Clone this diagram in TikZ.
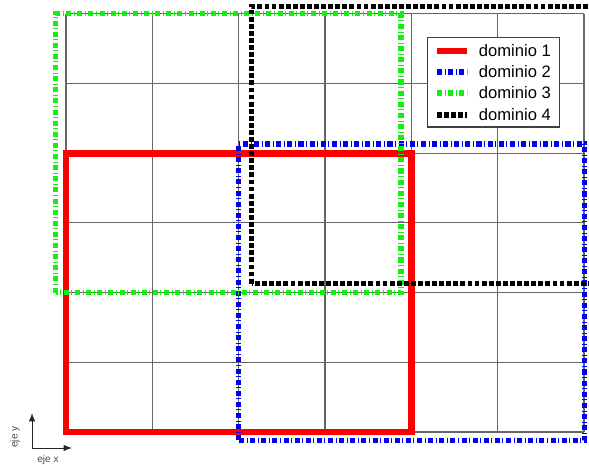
\documentclass[tikz,border=0pt]{standalone}
\usepackage{fontspec}
\setmainfont{Liberation Sans}
\usepackage{xcolor}
\usepackage{tikz}
\usetikzlibrary{arrows,positioning,calc}
\definecolor{domred}{HTML}{FF0000}
\definecolor{domblue}{HTML}{0000F0}
\definecolor{domgreen}{HTML}{11F011}
\definecolor{gridgray}{HTML}{666666}

\begin{document}
\begin{tikzpicture}[
    x=1.5cm, y=1.211cm,
    gridline/.style={draw=gridgray, line width=0.55pt, xstep=1.5cm, ystep=1.211cm},
    domone/.style={draw=domred, line width=3.3pt},
    domtwo/.style={draw=domblue, line width=2.6pt, dash pattern=on 2.5pt off 1.3pt on 0.5pt off 1.2pt},
    domthree/.style={draw=domgreen, line width=2.6pt, dash pattern=on 2.5pt off 1.3pt on 0.5pt off 1.2pt},
    domfour/.style={draw=black, line width=2.6pt, dash pattern=on 2.4pt off 1.1pt},
    legbox/.style={rectangle, draw=black!75, fill=white, line width=0.5pt, minimum width=2.294cm, minimum height=1.563cm, inner sep=0pt},
    legtext/.style={anchor=west, inner sep=0pt, font=\fontsize{8.2}{9}\selectfont},
    axislabel/.style={inner sep=0pt, text=black!70, font=\fontsize{5}{6}\selectfont},
    axisarrow/.style={draw=black!85, -latex, line width=0.45pt}
]
\useasboundingbox (-0.765,-0.473) rectangle (6.058,6.198);
\clip (-0.765,-0.473) rectangle (6.058,6.198);

% mesh
\draw [gridline] (0,0) grid (6,6);

% subdomains
\draw [domone] (0,0) rectangle (4,4);
\draw [domtwo] (2,-0.12) rectangle (6.01,4.13);
\draw [domthree] (-0.12,2) rectangle (3.88,6);
\draw [domfour] (2.15,2.13) rectangle (6.12,6.11);

% legend
\node [legbox] (legend) at (4.957,5.021) {};
\coordinate (k1a) at (4.298,5.466); \coordinate (k1b) at (4.645,5.466);
\coordinate (k2a) at (4.298,5.165); \coordinate (k2b) at (4.645,5.165);
\coordinate (k3a) at (4.298,4.864); \coordinate (k3b) at (4.645,4.864);
\coordinate (k4a) at (4.298,4.548); \coordinate (k4b) at (4.645,4.548);
\draw [domone] (k1a) -- (k1b);
\draw [domtwo] (k2a) -- (k2b);
\draw [domthree] (k3a) -- (k3b);
\draw [domfour] (k4a) -- (k4b);
\node [legtext, right=0.2cm of k1b] (lab1) {dominio 1};
\node [legtext, right=0.2cm of k2b] (lab2) {dominio 2};
\node [legtext, right=0.2cm of k3b] (lab3) {dominio 3};
\node [legtext, right=0.2cm of k4b] (lab4) {dominio 4};

% axes
\coordinate (origin) at (-0.394,-0.23);
\coordinate (ytip) at (-0.394,0.273);
\coordinate (xtip) at (0.07,-0.23);
\draw [axisarrow] (origin) -- (ytip);
\draw [axisarrow] (origin) -- (xtip);
\node [axislabel, rotate=90] (ylab) at (-0.591,-0.072) {eje y};
\node [axislabel] (xlab) at (-0.2085,-0.402) {eje x};

\end{tikzpicture}
\end{document}
